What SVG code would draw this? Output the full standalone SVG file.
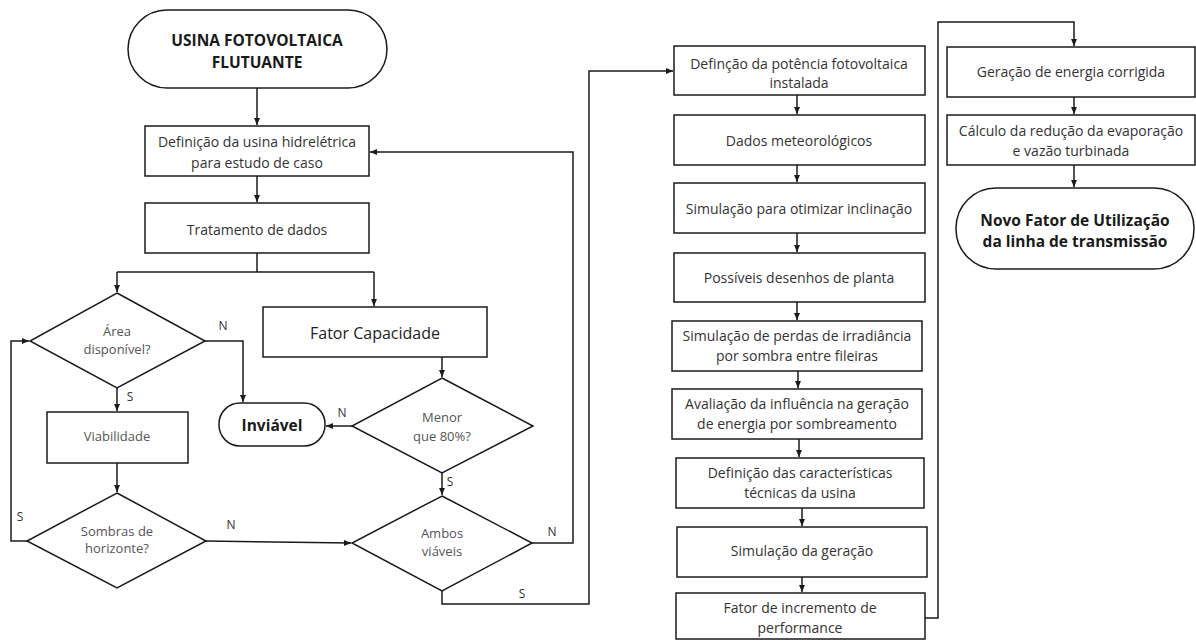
<svg xmlns="http://www.w3.org/2000/svg" width="1196" height="641" viewBox="0 0 1196 641">
<style>
.shape{fill:#fff;stroke:#1a1a1a;stroke-width:1.5}
.t{font-family:"Open Sans","Noto Sans",sans-serif;font-size:14px;fill:#333;text-anchor:middle;dominant-baseline:central}
.g{font-family:"Open Sans","Noto Sans",sans-serif;font-size:13px;fill:#555;text-anchor:middle;dominant-baseline:central}
.b{font-family:"Open Sans","Noto Sans",sans-serif;font-size:15.5px;font-weight:bold;fill:#1a1a1a;text-anchor:middle;dominant-baseline:central}
.big{font-family:"Open Sans","Noto Sans",sans-serif;font-size:16px;fill:#222;text-anchor:middle;dominant-baseline:central}
.lbl{font-family:"Open Sans","Noto Sans",sans-serif;font-size:12px;fill:#333;text-anchor:middle;dominant-baseline:central}
.c{fill:none;stroke:#1a1a1a;stroke-width:1.5}
</style>
<defs>
<marker id="ah" markerWidth="8" markerHeight="8" refX="7" refY="4" orient="auto" markerUnits="userSpaceOnUse">
<path d="M0,1 L7,4 L0,7 Z" fill="#1a1a1a"/>
</marker>
</defs>
<rect width="1196" height="641" fill="#fff"/>
<g id="connectors">
<path class="c" d="M257 88 V125" marker-end="url(#ah)"/>
<path class="c" d="M257 176 V202" marker-end="url(#ah)"/>
<path class="c" d="M257 253 V272 M117 272 H374"/>
<path class="c" d="M117 272 V292" marker-end="url(#ah)"/>
<path class="c" d="M374 272 V306" marker-end="url(#ah)"/>
<path class="c" d="M205 341 H243 V402" marker-end="url(#ah)"/>
<path class="c" d="M117 388 V411" marker-end="url(#ah)"/>
<path class="c" d="M117 463 V492" marker-end="url(#ah)"/>
<path class="c" d="M27 541 H11 V341 H29" marker-end="url(#ah)"/>
<path class="c" d="M206 541 L351 543" marker-end="url(#ah)"/>
<path class="c" d="M442 357 V377" marker-end="url(#ah)"/>
<path class="c" d="M352 426 H326" marker-end="url(#ah)"/>
<path class="c" d="M442 473 V495" marker-end="url(#ah)"/>
<path class="c" d="M532 543 H573 V152 H370" marker-end="url(#ah)"/>
<path class="c" d="M442 591 V604 H589 V71 H673" marker-end="url(#ah)"/>
<path class="c" d="M797 95 V114" marker-end="url(#ah)"/>
<path class="c" d="M797 165 V182" marker-end="url(#ah)"/>
<path class="c" d="M797 233 V252" marker-end="url(#ah)"/>
<path class="c" d="M797 302 V320" marker-end="url(#ah)"/>
<path class="c" d="M798 371 V388" marker-end="url(#ah)"/>
<path class="c" d="M799 439 V457" marker-end="url(#ah)"/>
<path class="c" d="M802 508 V526" marker-end="url(#ah)"/>
<path class="c" d="M802 577 V592" marker-end="url(#ah)"/>
<path class="c" d="M925 618 H938 V22 H1074 V46" marker-end="url(#ah)"/>
<path class="c" d="M1074 97 V114" marker-end="url(#ah)"/>
<path class="c" d="M1074 165 V187" marker-end="url(#ah)"/>
<text class="lbl" x="223" y="325">N</text>
<text class="lbl" x="130" y="396">S</text>
<text class="lbl" x="20" y="516">S</text>
<text class="lbl" x="231" y="524">N</text>
<text class="lbl" x="342" y="412">N</text>
<text class="lbl" x="450" y="481">S</text>
<text class="lbl" x="552" y="531">N</text>
<text class="lbl" x="522" y="593">S</text>
</g>
<g id="start">
<rect class="shape" x="128" y="10" width="259" height="78" rx="39"/>
<text class="b" x="257" y="40">USINA FOTOVOLTAICA</text>
<text class="b" x="257" y="62">FLUTUANTE</text>
</g>
<g id="definicao-usina">
<rect class="shape" x="145" y="126" width="224" height="50"/>
<text class="t" x="257" y="141">Definição da usina hidrelétrica</text>
<text class="t" x="257" y="162">para estudo de caso</text>
</g>
<g id="tratamento">
<rect class="shape" x="145" y="203" width="224" height="50"/>
<text class="t" x="257" y="229">Tratamento de dados</text>
</g>
<g id="area-disponivel">
<polygon class="shape" points="117,293 205,341 117,388 30,341"/>
<text class="g" x="117" y="331">Área</text>
<text class="g" x="117" y="349">disponível?</text>
</g>
<g id="viabilidade">
<rect class="shape" x="47" y="412" width="141" height="51"/>
<text class="g" x="117" y="436">Viabilidade</text>
</g>
<g id="sombras">
<polygon class="shape" points="117,493 206,541 117,588 27,541"/>
<text class="g" x="117" y="531">Sombras de</text>
<text class="g" x="117" y="548">horizonte?</text>
</g>
<g id="inviavel">
<rect class="shape" x="219" y="403" width="106" height="43" rx="21"/>
<text class="b" x="272" y="425">Inviável</text>
</g>
<g id="fator-capacidade">
<rect class="shape" x="263" y="307" width="224" height="50"/>
<text class="big" x="375" y="333">Fator Capacidade</text>
</g>
<g id="menor-80">
<polygon class="shape" points="442,378 533,426 442,473 352,426"/>
<text class="g" x="442" y="417">Menor</text>
<text class="g" x="442" y="436">que 80%?</text>
</g>
<g id="ambos-viaveis">
<polygon class="shape" points="442,496 532,543 442,591 352,543"/>
<text class="g" x="442" y="533">Ambos</text>
<text class="g" x="442" y="551">viáveis</text>
</g>
<g id="potencia">
<rect class="shape" x="674" y="46" width="251" height="49"/>
<text class="t" x="799" y="63">Definção da potência fotovoltaica</text>
<text class="t" x="799" y="82">instalada</text>
</g>
<g id="meteorologicos">
<rect class="shape" x="674" y="115" width="251" height="50"/>
<text class="t" x="799" y="140">Dados meteorológicos</text>
</g>
<g id="inclinacao">
<rect class="shape" x="674" y="183" width="251" height="50"/>
<text class="t" x="799" y="208">Simulação para otimizar inclinação</text>
</g>
<g id="desenhos">
<rect class="shape" x="674" y="253" width="251" height="49"/>
<text class="t" x="799" y="277">Possíveis desenhos de planta</text>
</g>
<g id="perdas">
<rect class="shape" x="672" y="321" width="250" height="50"/>
<text class="t" x="797" y="335">Simulação de perdas de irradiância</text>
<text class="t" x="797" y="355">por sombra entre fileiras</text>
</g>
<g id="avaliacao">
<rect class="shape" x="672" y="389" width="250" height="50"/>
<text class="t" x="797" y="403">Avaliação da influência na geração</text>
<text class="t" x="797" y="423">de energia por sombreamento</text>
</g>
<g id="caracteristicas">
<rect class="shape" x="676" y="458" width="248" height="50"/>
<text class="t" x="800" y="472">Definição das características</text>
<text class="t" x="800" y="492">técnicas da usina</text>
</g>
<g id="simulacao-geracao">
<rect class="shape" x="677" y="527" width="250" height="50"/>
<text class="t" x="802" y="550">Simulação da geração</text>
</g>
<g id="incremento">
<rect class="shape" x="676" y="593" width="249" height="46"/>
<text class="t" x="800" y="607">Fator de incremento de</text>
<text class="t" x="800" y="627">performance</text>
</g>
<g id="energia-corrigida">
<rect class="shape" x="947" y="47" width="248" height="50"/>
<text class="t" x="1071" y="71">Geração de energia corrigida</text>
</g>
<g id="evaporacao">
<rect class="shape" x="947" y="115" width="248" height="50"/>
<text class="t" x="1071" y="130">Cálculo da redução da evaporação</text>
<text class="t" x="1071" y="150">e vazão turbinada</text>
</g>
<g id="fim">
<rect class="shape" x="956" y="188" width="238" height="81" rx="40"/>
<text class="b" x="1075" y="220">Novo Fator de Utilização</text>
<text class="b" x="1075" y="241">da linha de transmissão</text>
</g>
</svg>
